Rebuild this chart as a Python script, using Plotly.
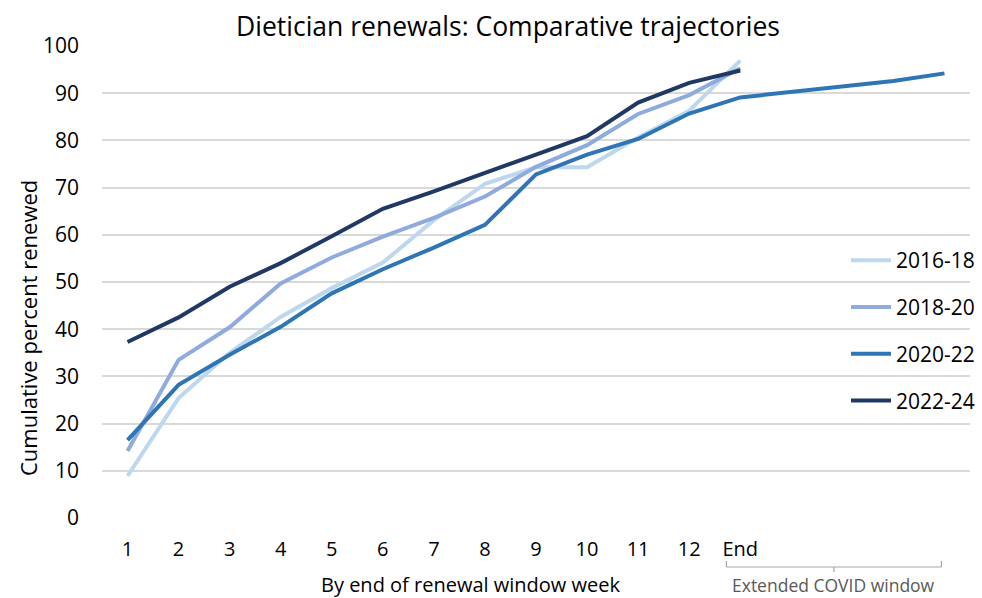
import plotly.graph_objects as go

# ---- data ----
categories = ["1", "2", "3", "4", "5", "6", "7", "8", "9", "10", "11", "12", "End"]
extended_slots = 4  # extra category slots of the extended COVID window

series_names = ["2016-18", "2018-20", "2020-22", "2022-24"]
s_2016_18 = [8.9, 25.4, 35.0, 42.6, 48.7, 54.1, 63.1, 70.8, 74.3, 74.3, 80.6, 86.3, 96.9]
s_2018_20 = [14.2, 33.5, 40.4, 49.7, 55.2, 59.6, 63.6, 68.1, 74.4, 79.0, 85.6, 89.6, 95.3]
s_2020_22 = [16.5, 28.2, 34.6, 40.5, 47.6, 52.7, 57.3, 62.1, 72.8, 77.0, 80.3, 85.7, 89.1,
             90.3, 91.3, 92.6, 94.2]
s_2022_24 = [37.3, 42.5, 49.0, 54.0, 59.7, 65.5, 69.2, 73.0, 77.0, 80.9, 88.0, 92.2, 94.8]

y_ticks = [0, 10, 20, 30, 40, 50, 60, 70, 80, 90, 100]

colors = ["#BDD7EE", "#8FAADC", "#2E75B6", "#203864"]

FONT = "Open Sans"

n_slots = len(categories) + extended_slots
fig = go.Figure()
for name, vals, col in zip(series_names, [s_2016_18, s_2018_20, s_2020_22, s_2022_24], colors):
    xs = list(range(1, len(vals) + 1))
    fig.add_trace(go.Scatter(
        x=xs, y=vals, mode="lines", name=name, legendgroup=name,
        line=dict(color=col, width=4),
    ))

W, H = 982, 598
ml, mr, mt, mb = 102, 12, 46, 80
pw, ph = W - ml - mr, H - mt - mb

def px_x(px):
    return (px - ml) / pw

def px_y(py):
    return (H - mb - py) / ph

fig.update_layout(
    width=W, height=H,
    margin=dict(l=ml, r=mr, t=mt, b=mb, autoexpand=False),
    paper_bgcolor="white", plot_bgcolor="white",
    font=dict(family=FONT, size=20, color="#000000"),
    showlegend=True,
    legend=dict(
        x=px_x(846), y=px_y(240), xanchor="left", yanchor="top",
        bgcolor="rgba(0,0,0,0)", font=dict(size=21, family=FONT),
        tracegroupgap=16.5, itemwidth=40,
    ),
    xaxis=dict(
        range=[0.5, n_slots + 0.5],
        tickmode="array", tickvals=list(range(1, len(categories) + 1)), ticktext=categories,
        showgrid=False, zeroline=False, showline=False, ticks="",
        tickfont=dict(size=20, family=FONT), ticklabelstandoff=17,
    ),
    yaxis=dict(
        range=[0, 100], tickmode="array", tickvals=y_ticks,
        showgrid=True, gridcolor="#D9D9D9", gridwidth=1.5,
        zeroline=False, showline=False, ticks="",
        tickfont=dict(size=21, family=FONT), ticklabelstandoff=22,
    ),
    title=dict(
        text="Dietician renewals: Comparative trajectories",
        x=508 / W, xanchor="center",
        y=1 - 27 / H, yanchor="middle",
        font=dict(size=26.5, family=FONT, color="#000000"),
    ),
)

fig.add_annotation(
    text="Cumulative percent renewed", textangle=-90,
    xref="paper", yref="paper", x=px_x(28), y=px_y(328),
    showarrow=False, font=dict(size=22, family=FONT),
    xanchor="center", yanchor="middle",
)
fig.add_annotation(
    text="By end of renewal window week",
    xref="paper", yref="paper", x=px_x(471), y=px_y(584),
    showarrow=False, font=dict(size=20, family=FONT),
    xanchor="center", yanchor="middle",
)

# bracket for extended COVID window
bx0, bx1 = 12.73, 16.94
bmid = (bx0 + bx1) / 2
gray = "#A6A6A6"
for (xa, ya, xb, yb) in [
    (bx0, px_y(561), bx0, px_y(567)),
    (bx0, px_y(567), bx1, px_y(567)),
    (bx1, px_y(567), bx1, px_y(561)),
    (bmid, px_y(567), bmid, px_y(572)),
]:
    fig.add_shape(type="line", xref="x", yref="paper", x0=xa, y0=ya, x1=xb, y1=yb,
                  line=dict(color=gray, width=1.2))
fig.add_annotation(
    text="Extended COVID window",
    xref="x", yref="paper", x=bmid, y=px_y(585),
    showarrow=False, font=dict(size=17.5, family=FONT, color="#595959"),
    xanchor="center", yanchor="middle",
)

fig.write_html("out.html", config={"displayModeBar": False},
               post_script="document.body.style.margin='0px';")
